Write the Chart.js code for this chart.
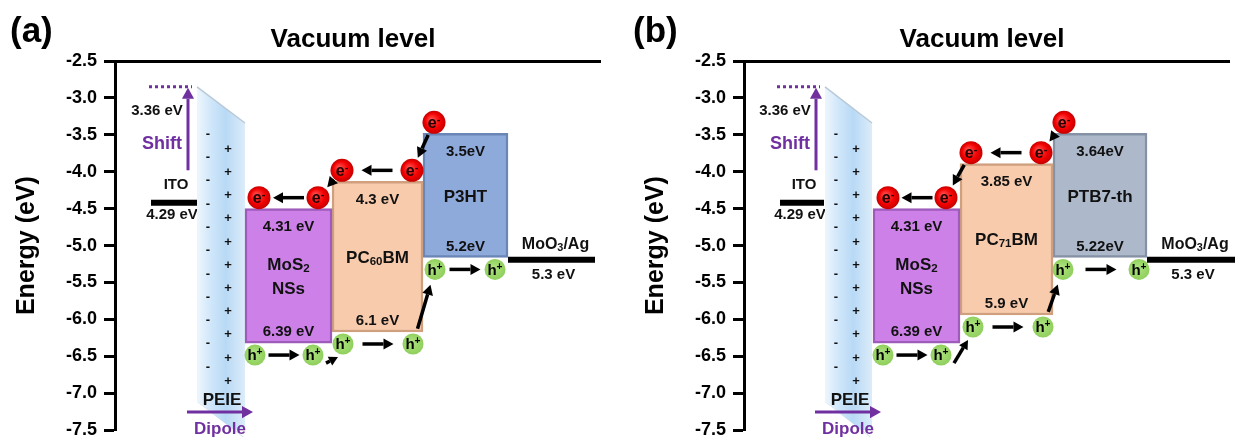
<!DOCTYPE html>
<html><head><meta charset="utf-8">
<script src="https://cdn.jsdelivr.net/npm/chart.js@4"></script>
<style>
html,body{margin:0;padding:0;background:#fff;width:1235px;height:437px;overflow:hidden;}
canvas{position:absolute;top:0;}
#ca{left:0;} #cb{left:629px;}
</style></head><body>
<canvas id="ca" width="617" height="448"></canvas>
<canvas id="cb" width="606" height="448"></canvas>
<script>
const FONT = "'Liberation Sans', Arial, Helvetica, sans-serif";
const TXT = '#111';
const PUR = '#7030a0';

// ---- data ----
const yTicks = [-2.5, -3.0, -3.5, -4.0, -4.5, -5.0, -5.5, -6.0, -6.5, -7.0, -7.5];

const levelsA = ['ITO', 'PEIE', 'MoS_2|NSs', 'PC_60BM', 'P3HT', 'MoO_3/Ag'];
const levelsB = ['ITO', 'PEIE', 'MoS_2|NSs', 'PC_71BM', 'PTB7-th', 'MoO_3/Ag'];

// upper (LUMO / work function) and lower (HOMO) levels as drawn against the axis, eV
const upperA = [-4.42, -2.85, -4.50, -4.13, -3.48, -5.19];
const lowerA = [null, -7.11, -6.32, -6.17, -5.16, null];
const upperB = [-4.42, -2.85, -4.50, -3.89, -3.48, -5.19];
const lowerB = [null, -7.11, -6.32, -5.94, -5.16, null];
const peieRight = [-3.34, -7.61];   // slanted right edge of the PEIE layer

const upperTextA = ['4.29 eV', '3.36 eV', '4.31 eV', '4.3 eV', '3.5eV', '5.3 eV'];
const lowerTextA = ['', '', '6.39 eV', '6.1 eV', '5.2eV', ''];
const upperTextB = ['4.29 eV', '3.36 eV', '4.31 eV', '3.85 eV', '3.64eV', '5.3 eV'];
const lowerTextB = ['', '', '6.39 eV', '5.9 eV', '5.22eV', ''];

// ---- layout / style (not data) ----
const panelA = {
  tag: '(a)', tagX: 10, names: levelsA, upper: upperA, lower: lowerA,
  upText: upperTextA, lowText: lowerTextA,
  fill: [null, null, '#cc80e8', '#f8cbad', '#8eaadb', null],
  edge: [null, null, '#9d5cba', '#cf9f7e', '#6a86b6', null],
  x: [[36, 82], [82, 130], [130, 217], [217, 308], [308, 393], [393, 480]],
  padRight: 17, shiftFrom: -3.98, dipoleAt: -7.255,
  ePos: [[2, 'l', 14], [2, 'r', 14], [3, 'l', 10], [3, 'r', 11], [4, 'l', 11]],
  hPos: [[2, 'l', 10], [2, 'r', 19], [3, 'l', 11], [3, 'r', 10], [4, 'l', 12], [4, 'r', 13]]
};
const panelB = {
  tag: '(b)', tagX: 4, names: levelsB, upper: upperB, lower: lowerB,
  upText: upperTextB, lowText: lowerTextB,
  fill: [null, null, '#cc80e8', '#f8cbad', '#adb9ca', null],
  edge: [null, null, '#9d5cba', '#cf9f7e', '#8592a6', null],
  x: [[36, 80], [81, 128], [129, 216], [216, 309], [309, 403], [403, 491]],
  padRight: 6, shiftFrom: -3.98, dipoleAt: -7.255,
  ePos: [[2, 'l', 15], [2, 'r', 14], [3, 'l', 11], [3, 'r', 12], [4, 'l', 11]],
  hPos: [[2, 'l', 10], [2, 'r', 19], [3, 'l', 13], [3, 'r', 10], [4, 'l', 10], [4, 'r', 8]]
};

// ---- drawing helpers ----
function parseRich(s) {
  const parts = []; let i = 0, buf = '';
  while (i < s.length) {
    const c = s[i];
    if (c === '_' || c === '^') {
      if (buf) { parts.push([buf, 0]); buf = ''; }
      let j = i + 1, t = '';
      if (c === '_') { while (j < s.length && /[0-9]/.test(s[j])) t += s[j++]; }
      else { t = s[j++]; }
      parts.push([t, c === '_' ? 1 : 2]); i = j;
    } else { buf += c; i++; }
  }
  if (buf) parts.push([buf, 0]);
  return parts;
}
function rich(ctx, s, cx, cy, size, color) {
  if (!s) return;
  const parts = parseRich(s);
  ctx.save(); ctx.fillStyle = color; ctx.textBaseline = 'alphabetic'; ctx.textAlign = 'left';
  const f = k => `bold ${k ? size * 0.68 : size}px ${FONT}`;
  let w = 0; for (const p of parts) { ctx.font = f(p[1]); w += ctx.measureText(p[0]).width; }
  let x = cx - w / 2; const base = cy + size * 0.36;
  for (const p of parts) {
    ctx.font = f(p[1]);
    const dy = p[1] === 1 ? size * 0.12 : p[1] === 2 ? -size * 0.34 : 0;
    ctx.fillText(p[0], x, base + dy); x += ctx.measureText(p[0]).width;
  }
  ctx.restore();
}
function arrow(ctx, x1, y1, x2, y2, color, lw, hl) {
  const a = Math.atan2(y2 - y1, x2 - x1), hw = hl * 0.55;
  const bx = x2 - hl * Math.cos(a), by = y2 - hl * Math.sin(a);
  ctx.save(); ctx.strokeStyle = color; ctx.fillStyle = color; ctx.lineWidth = lw; ctx.setLineDash([]);
  ctx.beginPath(); ctx.moveTo(x1, y1); ctx.lineTo(bx, by); ctx.stroke();
  ctx.beginPath(); ctx.moveTo(x2, y2);
  ctx.lineTo(bx + hw * Math.sin(a), by - hw * Math.cos(a));
  ctx.lineTo(bx - hw * Math.sin(a), by + hw * Math.cos(a));
  ctx.closePath(); ctx.fill(); ctx.restore();
}
function carrier(ctx, x, y, kind) {
  const r = kind === 'e' ? 11.5 : 10.5;
  ctx.save();
  if (kind === 'e') {
    const g = ctx.createRadialGradient(x - 3, y - 3, 1, x, y, r);
    g.addColorStop(0, '#ff4a4a'); g.addColorStop(0.65, '#f20000'); g.addColorStop(1, '#c40000');
    ctx.fillStyle = g;
  } else {
    const g = ctx.createRadialGradient(x - 2, y - 2, 1, x, y, r);
    g.addColorStop(0, '#aee37f'); g.addColorStop(1, '#8fcf5c');
    ctx.fillStyle = g;
  }
  ctx.beginPath(); ctx.arc(x, y, r, 0, Math.PI * 2); ctx.fill();
  ctx.restore();
  rich(ctx, kind === 'e' ? 'e^-' : 'h^+', x, y, kind === 'e' ? 16 : 15, kind === 'e' ? '#220000' : '#000');
}
function between(ctx, P, Q, kind) {
  const dx = Q[0] - P[0], dy = Q[1] - P[1], d = Math.hypot(dx, dy), ux = dx / d, uy = dy / d;
  if (Math.abs(dy) < 2) {
    const len = Math.min(d - 24, 31), mx = (P[0] + Q[0]) / 2;
    arrow(ctx, mx - ux * len / 2, P[1], mx + ux * len / 2, P[1], '#000', 3.5, 10);
  } else {
    const s = kind === 'e' ? 14 : 16;
    arrow(ctx, P[0] + ux * s, P[1] + uy * s, Q[0] - ux * s, Q[1] - uy * s, '#000', 3.5, 10);
  }
}

function panelPlugin(p) {
  const geo = chart => {
    const X = chart.scales.x, Y = chart.scales.y;
    const px = v => X.getPixelForValue(v), py = v => Y.getPixelForValue(v);
    const box = i => ({ l: px(p.x[i][0]), r: px(p.x[i][1]), t: py(p.upper[i]),
      b: p.lower[i] == null ? null : py(p.lower[i]) });
    return { px, py, box };
  };
  return {
    id: 'energy' + p.tag.replace(/\W/g, ''),
    beforeDatasetsDraw(chart) {
      const ctx = chart.ctx, { box } = geo(chart);
      const b = box(0), cx = (b.l + b.r) / 2;
      rich(ctx, p.names[0], cx + 2, b.t - 19, 15, TXT);
      rich(ctx, p.upText[0], cx - 2, b.t + 11, 15, TXT);
    },
    afterDatasetsDraw(chart) {
      const ctx = chart.ctx, { py, box } = geo(chart);
      // PEIE dipole signs
      const pe = box(1), peTR = py(peieRight[0]), peBL = pe.b;
      for (let k = 0; k < 11; k++) {
        rich(ctx, '-', pe.l + 11, peTR + 10 + k * 23.3, 13, TXT);
        rich(ctx, '+', pe.l + 31, peTR + 25 + k * 23.2, 13, TXT);
      }
      rich(ctx, p.names[1], pe.l + 25, peBL - 3, 17, TXT);
      // shift
      ctx.save(); ctx.strokeStyle = PUR; ctx.lineWidth = 3; ctx.setLineDash([3, 3]);
      ctx.beginPath(); ctx.moveTo(pe.l - 48, pe.t); ctx.lineTo(pe.l - 5, pe.t); ctx.stroke(); ctx.restore();
      arrow(ctx, pe.l - 9, py(p.shiftFrom), pe.l - 9, pe.t + 1, PUR, 3, 11);
      rich(ctx, p.upText[1], pe.l - 40, pe.t + 23, 15, TXT);
      rich(ctx, 'Shift', pe.l - 35, pe.t + 56, 18, PUR);
      // dipole
      const dy = py(p.dipoleAt);
      arrow(ctx, pe.l - 10, dy, pe.l + 56, dy, PUR, 3, 11);
      rich(ctx, 'Dipole', pe.l + 23, dy + 16, 17, PUR);
      // boxes text
      for (let i = 2; i <= 4; i++) {
        const b = box(i), cx = (b.l + b.r) / 2;
        rich(ctx, p.upText[i], cx, b.t + 17, 15, TXT);
        rich(ctx, p.lowText[i], cx, b.b - 12, 15, TXT);
        const lines = p.names[i].split('|'), cy = (b.t + b.b) / 2;
        lines.forEach((s, k) => rich(ctx, s, cx, cy + (k - (lines.length - 1) / 2) * 24, 17, TXT));
      }
      // MoO3/Ag
      const m = box(5), mx = (m.l + m.r) / 2;
      rich(ctx, p.names[5], mx + 4, m.t - 16, 16, TXT);
      rich(ctx, p.upText[5], mx + 2, m.t + 14, 15, TXT);
      // carriers
      const E = p.ePos.map(([i, s, o]) => { const b = box(i); return [s === 'l' ? b.l + o : b.r - o, b.t - 11]; });
      const H = p.hPos.map(([i, s, o]) => { const b = box(i); return [s === 'l' ? b.l + o : b.r - o, b.b + 12]; });
      between(ctx, E[1], E[0], 'e'); between(ctx, E[2], E[1], 'e');
      between(ctx, E[3], E[2], 'e'); between(ctx, E[4], E[3], 'e');
      between(ctx, H[0], H[1], 'h'); between(ctx, H[2], H[3], 'h');
      between(ctx, H[3], H[4], 'h'); between(ctx, H[4], H[5], 'h');
      arrow(ctx, H[1][0] + 13, H[1][1] + 8, H[2][0] - 5, H[2][1] + 13, '#000', 3.5, 9);
      E.forEach(q => carrier(ctx, q[0], q[1], 'e'));
      H.forEach(q => carrier(ctx, q[0], q[1], 'h'));
    },
    afterDraw(chart) {
      const ctx = chart.ctx;
      ctx.save(); ctx.fillStyle = '#000'; ctx.textBaseline = 'alphabetic';
      ctx.font = `bold 35px ${FONT}`; ctx.textAlign = 'left'; ctx.fillText(p.tag, p.tagX, 42);
      ctx.font = `bold 26px ${FONT}`; ctx.textAlign = 'center';
      ctx.fillText('Vacuum level', chart.chartArea.left + 238, 47);
      ctx.restore();
    }
  };
}

function makeChart(id, p) {
  const datasets = [];
  for (let i = 2; i <= 4; i++) {
    const [x0, x1] = p.x[i];
    datasets.push({ type: 'bar', label: p.names[i], data: [{ x: (x0 + x1) / 2, y: [p.lower[i], p.upper[i]] }],
      barThickness: x1 - x0, grouped: false, backgroundColor: p.fill[i], borderColor: p.edge[i],
      borderWidth: 2.5, borderSkipped: false });
  }
  const [pl, pr] = p.x[1];
  datasets.push({ type: 'line', label: 'PEIE top', data: [{ x: pl, y: p.upper[1] }, { x: pr, y: peieRight[0] }],
    fill: '+1', borderColor: '#b9c9d8', borderWidth: 1.5, pointRadius: 0, clip: false,
    backgroundColor: (c) => {
      const ch = c.chart; if (!ch.chartArea) return '#c5e0f7';
      const X = ch.scales.x;
      const g = ch.ctx.createLinearGradient(X.getPixelForValue(pl), 0, X.getPixelForValue(pr), 0);
      g.addColorStop(0, '#eef6fd'); g.addColorStop(0.3, '#cfe6fa'); g.addColorStop(0.6, '#b8d9f5'); g.addColorStop(1, '#dcecf9');
      return g;
    } });
  datasets.push({ type: 'line', label: 'PEIE bottom', data: [{ x: pl, y: p.lower[1] }, { x: pr, y: peieRight[1] }],
    fill: false, borderColor: '#d0dce8', borderWidth: 1, pointRadius: 0, clip: false });
  for (const i of [0, 5]) {
    const [x0, x1] = p.x[i];
    datasets.push({ type: 'line', label: p.names[i], data: [{ x: x0, y: p.upper[i] }, { x: x1, y: p.upper[i] }],
      borderColor: '#000', borderWidth: 6, pointRadius: 0, fill: false, clip: false, borderCapStyle: 'butt' });
  }
  return new Chart(document.getElementById(id), {
    type: 'bar',
    data: { datasets },
    options: {
      responsive: false, animation: false, devicePixelRatio: 1,
      layout: { padding: { left: 0, top: 61, right: p.padRight, bottom: 0 } },
      plugins: { legend: { display: false }, tooltip: { enabled: false }, title: { display: false } },
      scales: {
        x: { type: 'linear', position: 'top', min: 0, max: 485, offset: false,
          ticks: { display: false }, grid: { display: false, drawTicks: false },
          border: { display: true, color: '#000', width: 3 }, afterFit: s => { s.height = 0; } },
        y: { type: 'linear', min: -7.5, max: -2.5,
          afterFit: s => { s.width = 115; },
          afterBuildTicks: s => { s.ticks = yTicks.map(v => ({ value: v })); },
          ticks: { color: '#000', autoSkip: false, padding: 7, font: { family: FONT, size: 18, weight: 'bold' },
            callback: v => Number(v).toFixed(1) },
          grid: { drawOnChartArea: false, drawTicks: true, tickLength: 11, tickWidth: 3, tickColor: '#000' },
          border: { display: true, color: '#000', width: 3 },
          title: { display: true, text: 'Energy (eV)', color: '#000',
            font: { family: FONT, size: 25, weight: 'bold' }, padding: { top: 12, bottom: 0 } } }
      }
    },
    plugins: [panelPlugin(p)]
  });
}
makeChart('ca', panelA);
makeChart('cb', panelB);
</script></body></html>
